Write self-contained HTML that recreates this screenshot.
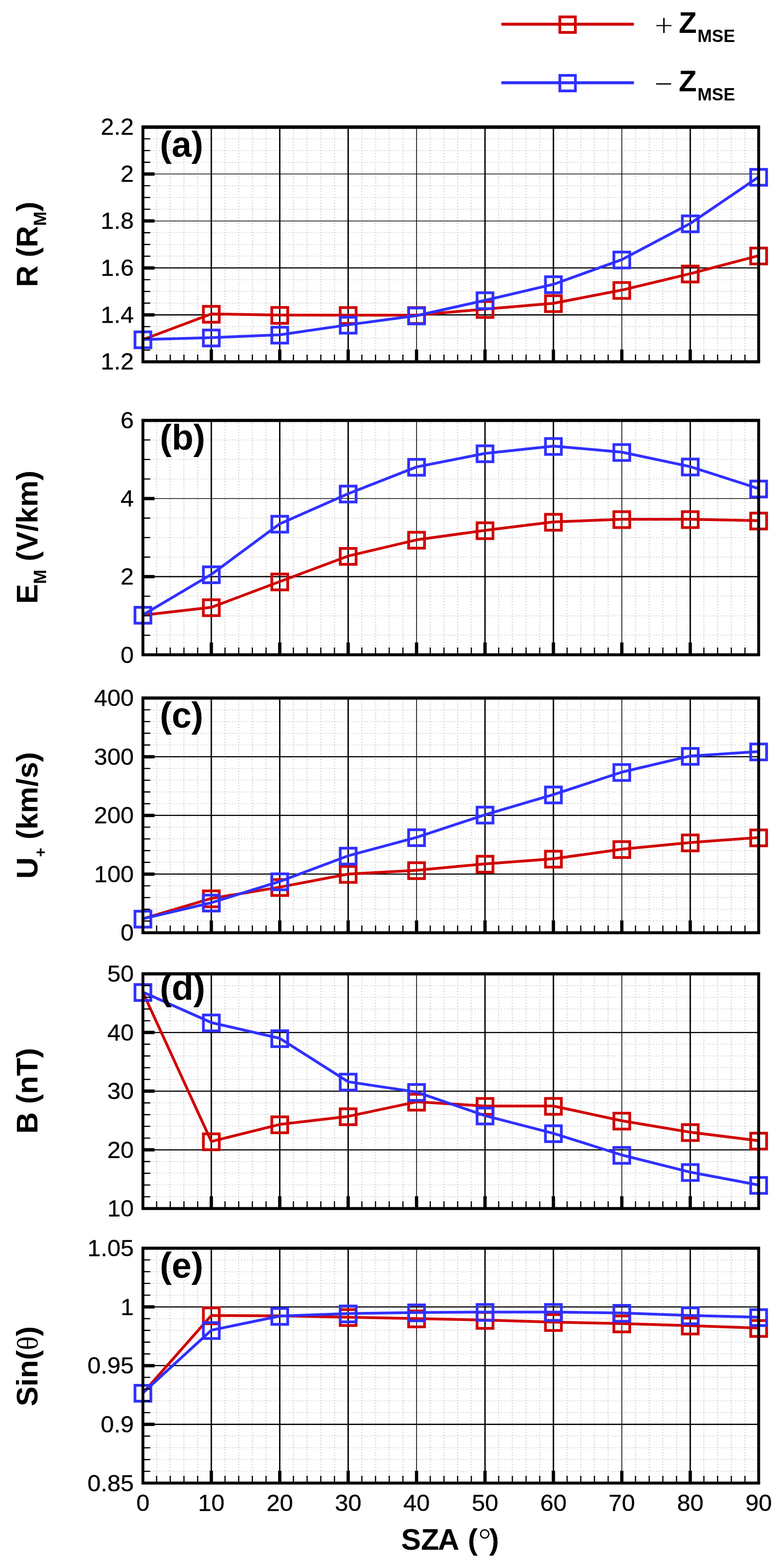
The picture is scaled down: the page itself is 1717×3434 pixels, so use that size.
<!DOCTYPE html>
<html lang="en">
<head>
<meta charset="utf-8">
<title>SZA dependence of R, E_M, U+, B and Sin(theta) for +Z_MSE and -Z_MSE</title>
<style>
html,body{margin:0;padding:0;background:#fff;}
svg{display:block;}
text{font-family:"Liberation Sans", Arial, Helvetica, sans-serif;fill:#000;}
.tk{font-size:50.4px;stroke:#000;stroke-width:0.35px;}
.yl{font-size:65px;font-weight:bold;text-anchor:middle;}
.pl{font-size:78px;font-weight:bold;}
.sub{font-size:38px;font-weight:bold;}
.sym{font-family:"Liberation Serif", "Times New Roman", serif;font-weight:normal;}
.lt{font-family:"DejaVu Sans Light","DejaVu Sans","Liberation Sans", Arial, Helvetica, sans-serif;font-weight:200;font-size:52px;stroke:#000;stroke-width:0.5px;}
.dg{font-family:"DejaVu Sans Light","DejaVu Sans","Liberation Sans", Arial, Helvetica, sans-serif;font-weight:200;font-size:78px;}
.gm{stroke:#c8c8c8;fill:none;stroke-dasharray:1.5 4.9;}
.gM{stroke:#000;fill:none;}
.ax{stroke:#000;fill:none;}
.r{stroke:#d00000;fill:none;}
.b{stroke:#3030ff;fill:none;}
</style>
</head>
<body>
<svg width="1717" height="3434" viewBox="0 0 1717 3434">
<rect x="0" y="0" width="1717" height="3434" fill="#ffffff"/>
<g id="legend">
<g class="r">
<line x1="1098" y1="53.0" x2="1388.3" y2="53.0" stroke-width="6.6"/>
<rect x="1226.1" y="37" width="34" height="34" stroke-width="6"/>
</g>
<text class="lt" x="1454" y="72" text-anchor="middle">+</text>
<text x="1486.5" y="72.1" font-size="64.5" font-weight="bold">Z<tspan class="sub" dx="1.5" dy="19.5">MSE</tspan></text>
<g class="b">
<line x1="1098" y1="181.2" x2="1388.3" y2="181.2" stroke-width="6.6"/>
<rect x="1226.1" y="165.1" width="34" height="34" stroke-width="6"/>
</g>
<text class="lt" x="1453.3" y="200.1" text-anchor="middle">−</text>
<text x="1486.5" y="200.2" font-size="64.5" font-weight="bold">Z<tspan class="sub" dx="1.5" dy="19.5">MSE</tspan></text>
</g>
<g id="panel-a">
<g class="gm">
<path stroke-width="3" d="M343 284.3V789.4M372.9 284.3V789.4M402.9 284.3V789.4M432.9 284.3V789.4M492.8 284.3V789.4M522.8 284.3V789.4M552.7 284.3V789.4M582.7 284.3V789.4M642.6 284.3V789.4M672.6 284.3V789.4M702.6 284.3V789.4M732.5 284.3V789.4M792.5 284.3V789.4M822.4 284.3V789.4M852.4 284.3V789.4M882.4 284.3V789.4M942.3 284.3V789.4M972.3 284.3V789.4M1002.2 284.3V789.4M1032.2 284.3V789.4M1092.1 284.3V789.4M1122.1 284.3V789.4M1152.1 284.3V789.4M1182 284.3V789.4M1242 284.3V789.4M1271.9 284.3V789.4M1301.9 284.3V789.4M1331.9 284.3V789.4M1391.8 284.3V789.4M1421.8 284.3V789.4M1451.7 284.3V789.4M1481.7 284.3V789.4M1541.6 284.3V789.4M1571.6 284.3V789.4M1601.6 284.3V789.4M1631.5 284.3V789.4"/>
<path stroke-width="2.5" d="M330 766.7H1658.5M330 741H1658.5M330 715.3H1658.5M330 663.9H1658.5M330 638.2H1658.5M330 612.5H1658.5M330 561.1H1658.5M330 535.4H1658.5M330 509.6H1658.5M330 458.2H1658.5M330 432.5H1658.5M330 406.8H1658.5M330 355.4H1658.5M330 329.7H1658.5M330 304H1658.5"/>
</g>
<g class="gM">
<path stroke-width="3" d="M462.8 278.3V792.4M612.7 278.3V792.4M762.5 278.3V792.4M1062.2 278.3V792.4M1212 278.3V792.4M1511.7 278.3V792.4"/>
<path stroke-width="1.7" d="M912.3 278.3V792.4M1361.8 278.3V792.4"/>
<path stroke-width="2.6" d="M313 689.6H1661.5M313 586.8H1661.5"/>
<path stroke-width="1.5" d="M313 483.9H1661.5M313 381.1H1661.5"/>
</g>
<g class="r" aria-label="+Z MSE">
<polyline points="313,743.8 462.8,687.5 612.7,689.9 762.5,690.2 912.3,690.2 1062.2,676.9 1212,664.2 1361.8,635.3 1511.7,599.3 1661.5,559.9" stroke-width="6.0" stroke-linejoin="round"/>
<rect x="295.6" y="726.8" width="34.8" height="34.8" stroke-width="4.4"/>
<rect x="445.4" y="670.9" width="34.8" height="34.8" stroke-width="6.0"/>
<rect x="595.3" y="673.3" width="34.8" height="34.8" stroke-width="6.0"/>
<rect x="745.1" y="673.6" width="34.8" height="34.8" stroke-width="6.0"/>
<rect x="894.9" y="673.6" width="34.8" height="34.8" stroke-width="6.0"/>
<rect x="1044.8" y="660.3" width="34.8" height="34.8" stroke-width="6.0"/>
<rect x="1194.6" y="647.6" width="34.8" height="34.8" stroke-width="6.0"/>
<rect x="1344.4" y="618.7" width="34.8" height="34.8" stroke-width="6.0"/>
<rect x="1494.3" y="582.7" width="34.8" height="34.8" stroke-width="6.0"/>
<rect x="1644.1" y="543.3" width="34.8" height="34.8" stroke-width="6.0"/>
</g>
<g class="b" aria-label="-Z MSE">
<polyline points="313,743.4 462.8,739.4 612.7,733.2 762.5,711.4 912.3,691.2 1062.2,657.8 1212,622.7 1361.8,568.6 1511.7,489.4 1661.5,387.5" stroke-width="6.0" stroke-linejoin="round"/>
<rect x="295.6" y="726.8" width="34.8" height="34.8" stroke-width="6.0"/>
<rect x="445.4" y="722.8" width="34.8" height="34.8" stroke-width="6.0"/>
<rect x="595.3" y="716.6" width="34.8" height="34.8" stroke-width="6.0"/>
<rect x="745.1" y="694.8" width="34.8" height="34.8" stroke-width="6.0"/>
<rect x="894.9" y="674.6" width="34.8" height="34.8" stroke-width="6.0"/>
<rect x="1044.8" y="641.2" width="34.8" height="34.8" stroke-width="6.0"/>
<rect x="1194.6" y="606.1" width="34.8" height="34.8" stroke-width="6.0"/>
<rect x="1344.4" y="552" width="34.8" height="34.8" stroke-width="6.0"/>
<rect x="1494.3" y="472.8" width="34.8" height="34.8" stroke-width="6.0"/>
<rect x="1644.1" y="370.9" width="34.8" height="34.8" stroke-width="6.0"/>
</g>
<g class="ax">
<path stroke-width="2.6" d="M313 766.7h16M313 741h16M313 715.3h16M313 663.9h16M313 638.2h16M313 612.5h16M313 561.1h16M313 535.4h16M313 509.6h16M313 458.2h16M313 432.5h16M313 406.8h16M313 355.4h16M313 329.7h16M313 304h16M343 792.4v-16M372.9 792.4v-16M402.9 792.4v-16M432.9 792.4v-16M492.8 792.4v-16M522.8 792.4v-16M552.7 792.4v-16M582.7 792.4v-16M642.6 792.4v-16M672.6 792.4v-16M702.6 792.4v-16M732.5 792.4v-16M792.5 792.4v-16M822.4 792.4v-16M852.4 792.4v-16M882.4 792.4v-16M942.3 792.4v-16M972.3 792.4v-16M1002.2 792.4v-16M1032.2 792.4v-16M1092.1 792.4v-16M1122.1 792.4v-16M1152.1 792.4v-16M1182 792.4v-16M1242 792.4v-16M1271.9 792.4v-16M1301.9 792.4v-16M1331.9 792.4v-16M1391.8 792.4v-16M1421.8 792.4v-16M1451.7 792.4v-16M1481.7 792.4v-16M1541.6 792.4v-16M1571.6 792.4v-16M1601.6 792.4v-16M1631.5 792.4v-16"/>
<path stroke-width="7.2" d="M313 689.6h25.5M313 586.8h25.5M313 483.9h25.5M313 381.1h25.5M462.8 792.4v-27M612.7 792.4v-27M762.5 792.4v-27M912.3 792.4v-27M1062.2 792.4v-27M1212 792.4v-27M1361.8 792.4v-27M1511.7 792.4v-27"/>
<path stroke-width="6.3" d="M313 278.3V792.4M1661.5 278.3V792.4"/>
<path stroke-width="7.7" d="M309.9 278.3H1664.7"/>
<path stroke-width="6.6" d="M309.9 792.4H1664.7"/>
</g>
<g class="tk" text-anchor="end">
<text transform="translate(293.1 809.3) scale(1.037 1)">1.2</text>
<text transform="translate(293.1 706.5) scale(1.037 1)">1.4</text>
<text transform="translate(293.1 603.7) scale(1.037 1)">1.6</text>
<text transform="translate(293.1 500.8) scale(1.037 1)">1.8</text>
<text transform="translate(293.1 398) scale(1.037 1)">2</text>
<text transform="translate(293.1 295.2) scale(1.037 1)">2.2</text>
</g>
<text class="pl" x="350" y="343">(a)</text>
</g>
<g id="panel-b">
<g class="gm">
<path stroke-width="3" d="M343 926.7V1431M372.9 926.7V1431M402.9 926.7V1431M432.9 926.7V1431M492.8 926.7V1431M522.8 926.7V1431M552.7 926.7V1431M582.7 926.7V1431M642.6 926.7V1431M672.6 926.7V1431M702.6 926.7V1431M732.5 926.7V1431M792.5 926.7V1431M822.4 926.7V1431M852.4 926.7V1431M882.4 926.7V1431M942.3 926.7V1431M972.3 926.7V1431M1002.2 926.7V1431M1032.2 926.7V1431M1092.1 926.7V1431M1122.1 926.7V1431M1152.1 926.7V1431M1182 926.7V1431M1242 926.7V1431M1271.9 926.7V1431M1301.9 926.7V1431M1331.9 926.7V1431M1391.8 926.7V1431M1421.8 926.7V1431M1451.7 926.7V1431M1481.7 926.7V1431M1541.6 926.7V1431M1571.6 926.7V1431M1601.6 926.7V1431M1631.5 926.7V1431"/>
<path stroke-width="2.5" d="M330 1391.2H1658.5M330 1348.5H1658.5M330 1305.7H1658.5M330 1220.1H1658.5M330 1177.3H1658.5M330 1134.6H1658.5M330 1049H1658.5M330 1006.2H1658.5M330 963.5H1658.5"/>
</g>
<g class="gM">
<path stroke-width="3" d="M462.8 920.7V1434M612.7 920.7V1434M762.5 920.7V1434M1062.2 920.7V1434M1212 920.7V1434M1511.7 920.7V1434"/>
<path stroke-width="1.7" d="M912.3 920.7V1434M1361.8 920.7V1434"/>
<path stroke-width="2.6" d="M313 1262.9H1661.5"/>
<path stroke-width="1.5" d="M313 1091.8H1661.5"/>
</g>
<g class="r" aria-label="+Z MSE">
<polyline points="313,1347.2 462.8,1330.1 612.7,1273.7 762.5,1217.7 912.3,1182.3 1062.2,1161.5 1212,1143 1361.8,1137.2 1511.7,1137.2 1661.5,1140.3" stroke-width="6.0" stroke-linejoin="round"/>
<rect x="295.6" y="1330" width="34.8" height="34.8" stroke-width="4.4"/>
<rect x="445.4" y="1313.5" width="34.8" height="34.8" stroke-width="6.0"/>
<rect x="595.3" y="1257.1" width="34.8" height="34.8" stroke-width="6.0"/>
<rect x="745.1" y="1201.1" width="34.8" height="34.8" stroke-width="6.0"/>
<rect x="894.9" y="1165.7" width="34.8" height="34.8" stroke-width="6.0"/>
<rect x="1044.8" y="1144.9" width="34.8" height="34.8" stroke-width="6.0"/>
<rect x="1194.6" y="1126.4" width="34.8" height="34.8" stroke-width="6.0"/>
<rect x="1344.4" y="1120.6" width="34.8" height="34.8" stroke-width="6.0"/>
<rect x="1494.3" y="1120.6" width="34.8" height="34.8" stroke-width="6.0"/>
<rect x="1644.1" y="1123.7" width="34.8" height="34.8" stroke-width="6.0"/>
</g>
<g class="b" aria-label="-Z MSE">
<polyline points="313,1346.6 462.8,1258 612.7,1147.2 762.5,1081.2 912.3,1022.6 1062.2,993 1212,977 1361.8,990.2 1511.7,1022 1661.5,1070.2" stroke-width="6.0" stroke-linejoin="round"/>
<rect x="295.6" y="1330" width="34.8" height="34.8" stroke-width="6.0"/>
<rect x="445.4" y="1241.4" width="34.8" height="34.8" stroke-width="6.0"/>
<rect x="595.3" y="1130.6" width="34.8" height="34.8" stroke-width="6.0"/>
<rect x="745.1" y="1064.6" width="34.8" height="34.8" stroke-width="6.0"/>
<rect x="894.9" y="1006" width="34.8" height="34.8" stroke-width="6.0"/>
<rect x="1044.8" y="976.4" width="34.8" height="34.8" stroke-width="6.0"/>
<rect x="1194.6" y="960.4" width="34.8" height="34.8" stroke-width="6.0"/>
<rect x="1344.4" y="973.6" width="34.8" height="34.8" stroke-width="6.0"/>
<rect x="1494.3" y="1005.4" width="34.8" height="34.8" stroke-width="6.0"/>
<rect x="1644.1" y="1053.6" width="34.8" height="34.8" stroke-width="6.0"/>
</g>
<g class="ax">
<path stroke-width="2.6" d="M313 1391.2h16M313 1348.5h16M313 1305.7h16M313 1220.1h16M313 1177.3h16M313 1134.6h16M313 1049h16M313 1006.2h16M313 963.5h16M343 1434v-16M372.9 1434v-16M402.9 1434v-16M432.9 1434v-16M492.8 1434v-16M522.8 1434v-16M552.7 1434v-16M582.7 1434v-16M642.6 1434v-16M672.6 1434v-16M702.6 1434v-16M732.5 1434v-16M792.5 1434v-16M822.4 1434v-16M852.4 1434v-16M882.4 1434v-16M942.3 1434v-16M972.3 1434v-16M1002.2 1434v-16M1032.2 1434v-16M1092.1 1434v-16M1122.1 1434v-16M1152.1 1434v-16M1182 1434v-16M1242 1434v-16M1271.9 1434v-16M1301.9 1434v-16M1331.9 1434v-16M1391.8 1434v-16M1421.8 1434v-16M1451.7 1434v-16M1481.7 1434v-16M1541.6 1434v-16M1571.6 1434v-16M1601.6 1434v-16M1631.5 1434v-16"/>
<path stroke-width="7.2" d="M313 1262.9h25.5M313 1091.8h25.5M462.8 1434v-27M612.7 1434v-27M762.5 1434v-27M912.3 1434v-27M1062.2 1434v-27M1212 1434v-27M1361.8 1434v-27M1511.7 1434v-27"/>
<path stroke-width="6.3" d="M313 920.7V1434M1661.5 920.7V1434"/>
<path stroke-width="6.9" d="M309.9 920.7H1664.7"/>
<path stroke-width="6.6" d="M309.9 1434H1664.7"/>
</g>
<g class="tk" text-anchor="end">
<text transform="translate(293.1 1451.5) scale(1.037 1)">0</text>
<text transform="translate(293.1 1280.4) scale(1.037 1)">2</text>
<text transform="translate(293.1 1109.3) scale(1.037 1)">4</text>
<text transform="translate(293.1 938.2) scale(1.037 1)">6</text>
</g>
<text class="pl" x="350" y="985.2">(b)</text>
</g>
<g id="panel-c">
<g class="gm">
<path stroke-width="3" d="M343 1534.8V2039.8M372.9 1534.8V2039.8M402.9 1534.8V2039.8M432.9 1534.8V2039.8M492.8 1534.8V2039.8M522.8 1534.8V2039.8M552.7 1534.8V2039.8M582.7 1534.8V2039.8M642.6 1534.8V2039.8M672.6 1534.8V2039.8M702.6 1534.8V2039.8M732.5 1534.8V2039.8M792.5 1534.8V2039.8M822.4 1534.8V2039.8M852.4 1534.8V2039.8M882.4 1534.8V2039.8M942.3 1534.8V2039.8M972.3 1534.8V2039.8M1002.2 1534.8V2039.8M1032.2 1534.8V2039.8M1092.1 1534.8V2039.8M1122.1 1534.8V2039.8M1152.1 1534.8V2039.8M1182 1534.8V2039.8M1242 1534.8V2039.8M1271.9 1534.8V2039.8M1301.9 1534.8V2039.8M1331.9 1534.8V2039.8M1391.8 1534.8V2039.8M1421.8 1534.8V2039.8M1451.7 1534.8V2039.8M1481.7 1534.8V2039.8M1541.6 1534.8V2039.8M1571.6 1534.8V2039.8M1601.6 1534.8V2039.8M1631.5 1534.8V2039.8"/>
<path stroke-width="2.5" d="M330 2017.1H1658.5M330 1991.4H1658.5M330 1965.7H1658.5M330 1940H1658.5M330 1888.6H1658.5M330 1862.9H1658.5M330 1837.2H1658.5M330 1811.5H1658.5M330 1760.1H1658.5M330 1734.4H1658.5M330 1708.7H1658.5M330 1683H1658.5M330 1631.6H1658.5M330 1605.9H1658.5M330 1580.2H1658.5M330 1554.5H1658.5"/>
</g>
<g class="gM">
<path stroke-width="3" d="M462.8 1528.8V2042.8M612.7 1528.8V2042.8M762.5 1528.8V2042.8M1062.2 1528.8V2042.8M1212 1528.8V2042.8M1511.7 1528.8V2042.8"/>
<path stroke-width="1.7" d="M912.3 1528.8V2042.8M1361.8 1528.8V2042.8"/>
<path stroke-width="2.6" d="M313 1914.3H1661.5M313 1785.8H1661.5M313 1657.3H1661.5"/>
</g>
<g class="r" aria-label="+Z MSE">
<polyline points="313,2012.2 462.8,1967.7 612.7,1942.9 762.5,1914.2 912.3,1906 1062.2,1891.9 1212,1880.8 1361.8,1859.8 1511.7,1845.2 1661.5,1834.2" stroke-width="6.0" stroke-linejoin="round"/>
<rect x="295.6" y="1995.6" width="34.8" height="34.8" stroke-width="4.4"/>
<rect x="445.4" y="1951.1" width="34.8" height="34.8" stroke-width="6.0"/>
<rect x="595.3" y="1926.3" width="34.8" height="34.8" stroke-width="6.0"/>
<rect x="745.1" y="1897.6" width="34.8" height="34.8" stroke-width="6.0"/>
<rect x="894.9" y="1889.4" width="34.8" height="34.8" stroke-width="6.0"/>
<rect x="1044.8" y="1875.3" width="34.8" height="34.8" stroke-width="6.0"/>
<rect x="1194.6" y="1864.2" width="34.8" height="34.8" stroke-width="6.0"/>
<rect x="1344.4" y="1843.2" width="34.8" height="34.8" stroke-width="6.0"/>
<rect x="1494.3" y="1828.6" width="34.8" height="34.8" stroke-width="6.0"/>
<rect x="1644.1" y="1817.6" width="34.8" height="34.8" stroke-width="6.0"/>
</g>
<g class="b" aria-label="-Z MSE">
<polyline points="313,2012.2 462.8,1977 612.7,1930.4 762.5,1874.2 912.3,1833.8 1062.2,1784.3 1212,1740.2 1361.8,1691 1511.7,1655.7 1661.5,1646" stroke-width="6.0" stroke-linejoin="round"/>
<rect x="295.6" y="1995.6" width="34.8" height="34.8" stroke-width="6.0"/>
<rect x="445.4" y="1960.4" width="34.8" height="34.8" stroke-width="6.0"/>
<rect x="595.3" y="1913.8" width="34.8" height="34.8" stroke-width="6.0"/>
<rect x="745.1" y="1857.6" width="34.8" height="34.8" stroke-width="6.0"/>
<rect x="894.9" y="1817.2" width="34.8" height="34.8" stroke-width="6.0"/>
<rect x="1044.8" y="1767.7" width="34.8" height="34.8" stroke-width="6.0"/>
<rect x="1194.6" y="1723.6" width="34.8" height="34.8" stroke-width="6.0"/>
<rect x="1344.4" y="1674.4" width="34.8" height="34.8" stroke-width="6.0"/>
<rect x="1494.3" y="1639.1" width="34.8" height="34.8" stroke-width="6.0"/>
<rect x="1644.1" y="1629.4" width="34.8" height="34.8" stroke-width="6.0"/>
</g>
<g class="ax">
<path stroke-width="2.6" d="M313 2017.1h16M313 1991.4h16M313 1965.7h16M313 1940h16M313 1888.6h16M313 1862.9h16M313 1837.2h16M313 1811.5h16M313 1760.1h16M313 1734.4h16M313 1708.7h16M313 1683h16M313 1631.6h16M313 1605.9h16M313 1580.2h16M313 1554.5h16M343 2042.8v-16M372.9 2042.8v-16M402.9 2042.8v-16M432.9 2042.8v-16M492.8 2042.8v-16M522.8 2042.8v-16M552.7 2042.8v-16M582.7 2042.8v-16M642.6 2042.8v-16M672.6 2042.8v-16M702.6 2042.8v-16M732.5 2042.8v-16M792.5 2042.8v-16M822.4 2042.8v-16M852.4 2042.8v-16M882.4 2042.8v-16M942.3 2042.8v-16M972.3 2042.8v-16M1002.2 2042.8v-16M1032.2 2042.8v-16M1092.1 2042.8v-16M1122.1 2042.8v-16M1152.1 2042.8v-16M1182 2042.8v-16M1242 2042.8v-16M1271.9 2042.8v-16M1301.9 2042.8v-16M1331.9 2042.8v-16M1391.8 2042.8v-16M1421.8 2042.8v-16M1451.7 2042.8v-16M1481.7 2042.8v-16M1541.6 2042.8v-16M1571.6 2042.8v-16M1601.6 2042.8v-16M1631.5 2042.8v-16"/>
<path stroke-width="7.2" d="M313 1914.3h25.5M313 1785.8h25.5M313 1657.3h25.5M462.8 2042.8v-27M612.7 2042.8v-27M762.5 2042.8v-27M912.3 2042.8v-27M1062.2 2042.8v-27M1212 2042.8v-27M1361.8 2042.8v-27M1511.7 2042.8v-27"/>
<path stroke-width="6.3" d="M313 1528.8V2042.8M1661.5 1528.8V2042.8"/>
<path stroke-width="6.9" d="M309.9 1528.8H1664.7"/>
<path stroke-width="6.6" d="M309.9 2042.8H1664.7"/>
</g>
<g class="tk" text-anchor="end">
<text transform="translate(293.1 2060.3) scale(1.037 1)">0</text>
<text transform="translate(293.1 1931.8) scale(1.037 1)">100</text>
<text transform="translate(293.1 1803.3) scale(1.037 1)">200</text>
<text transform="translate(293.1 1674.8) scale(1.037 1)">300</text>
<text transform="translate(293.1 1546.3) scale(1.037 1)">400</text>
</g>
<text class="pl" x="350" y="1592.6">(c)</text>
</g>
<g id="panel-d">
<g class="gm">
<path stroke-width="3" d="M343 2138.7V2643.7M372.9 2138.7V2643.7M402.9 2138.7V2643.7M432.9 2138.7V2643.7M492.8 2138.7V2643.7M522.8 2138.7V2643.7M552.7 2138.7V2643.7M582.7 2138.7V2643.7M642.6 2138.7V2643.7M672.6 2138.7V2643.7M702.6 2138.7V2643.7M732.5 2138.7V2643.7M792.5 2138.7V2643.7M822.4 2138.7V2643.7M852.4 2138.7V2643.7M882.4 2138.7V2643.7M942.3 2138.7V2643.7M972.3 2138.7V2643.7M1002.2 2138.7V2643.7M1032.2 2138.7V2643.7M1092.1 2138.7V2643.7M1122.1 2138.7V2643.7M1152.1 2138.7V2643.7M1182 2138.7V2643.7M1242 2138.7V2643.7M1271.9 2138.7V2643.7M1301.9 2138.7V2643.7M1331.9 2138.7V2643.7M1391.8 2138.7V2643.7M1421.8 2138.7V2643.7M1451.7 2138.7V2643.7M1481.7 2138.7V2643.7M1541.6 2138.7V2643.7M1571.6 2138.7V2643.7M1601.6 2138.7V2643.7M1631.5 2138.7V2643.7"/>
<path stroke-width="2.5" d="M330 2621H1658.5M330 2595.3H1658.5M330 2569.6H1658.5M330 2543.9H1658.5M330 2492.5H1658.5M330 2466.8H1658.5M330 2441.1H1658.5M330 2415.4H1658.5M330 2364H1658.5M330 2338.3H1658.5M330 2312.6H1658.5M330 2286.9H1658.5M330 2235.5H1658.5M330 2209.8H1658.5M330 2184.1H1658.5M330 2158.4H1658.5"/>
</g>
<g class="gM">
<path stroke-width="3" d="M462.8 2132.7V2646.7M612.7 2132.7V2646.7M762.5 2132.7V2646.7M1062.2 2132.7V2646.7M1212 2132.7V2646.7M1511.7 2132.7V2646.7"/>
<path stroke-width="1.7" d="M912.3 2132.7V2646.7M1361.8 2132.7V2646.7"/>
<path stroke-width="2.6" d="M313 2518.2H1661.5M313 2389.7H1661.5M313 2261.2H1661.5"/>
</g>
<g class="r" aria-label="+Z MSE">
<polyline points="313,2173.2 462.8,2499.8 612.7,2462.6 762.5,2444.9 912.3,2413.1 1062.2,2422.3 1212,2422.2 1361.8,2454.5 1511.7,2479.6 1661.5,2498.3" stroke-width="6.0" stroke-linejoin="round"/>
<rect x="295.6" y="2156.2" width="34.8" height="34.8" stroke-width="4.4"/>
<rect x="445.4" y="2483.2" width="34.8" height="34.8" stroke-width="6.0"/>
<rect x="595.3" y="2446" width="34.8" height="34.8" stroke-width="6.0"/>
<rect x="745.1" y="2428.3" width="34.8" height="34.8" stroke-width="6.0"/>
<rect x="894.9" y="2396.5" width="34.8" height="34.8" stroke-width="6.0"/>
<rect x="1044.8" y="2405.7" width="34.8" height="34.8" stroke-width="6.0"/>
<rect x="1194.6" y="2405.6" width="34.8" height="34.8" stroke-width="6.0"/>
<rect x="1344.4" y="2437.9" width="34.8" height="34.8" stroke-width="6.0"/>
<rect x="1494.3" y="2463" width="34.8" height="34.8" stroke-width="6.0"/>
<rect x="1644.1" y="2481.7" width="34.8" height="34.8" stroke-width="6.0"/>
</g>
<g class="b" aria-label="-Z MSE">
<polyline points="313,2172.8 462.8,2239.5 612.7,2274 762.5,2369.1 912.3,2391.7 1062.2,2443.3 1212,2482.1 1361.8,2529.5 1511.7,2567.1 1661.5,2595.3" stroke-width="6.0" stroke-linejoin="round"/>
<rect x="295.6" y="2156.2" width="34.8" height="34.8" stroke-width="6.0"/>
<rect x="445.4" y="2222.9" width="34.8" height="34.8" stroke-width="6.0"/>
<rect x="595.3" y="2257.4" width="34.8" height="34.8" stroke-width="6.0"/>
<rect x="745.1" y="2352.5" width="34.8" height="34.8" stroke-width="6.0"/>
<rect x="894.9" y="2375.1" width="34.8" height="34.8" stroke-width="6.0"/>
<rect x="1044.8" y="2426.7" width="34.8" height="34.8" stroke-width="6.0"/>
<rect x="1194.6" y="2465.5" width="34.8" height="34.8" stroke-width="6.0"/>
<rect x="1344.4" y="2512.9" width="34.8" height="34.8" stroke-width="6.0"/>
<rect x="1494.3" y="2550.5" width="34.8" height="34.8" stroke-width="6.0"/>
<rect x="1644.1" y="2578.7" width="34.8" height="34.8" stroke-width="6.0"/>
</g>
<g class="ax">
<path stroke-width="2.6" d="M313 2621h16M313 2595.3h16M313 2569.6h16M313 2543.9h16M313 2492.5h16M313 2466.8h16M313 2441.1h16M313 2415.4h16M313 2364h16M313 2338.3h16M313 2312.6h16M313 2286.9h16M313 2235.5h16M313 2209.8h16M313 2184.1h16M313 2158.4h16M343 2646.7v-16M372.9 2646.7v-16M402.9 2646.7v-16M432.9 2646.7v-16M492.8 2646.7v-16M522.8 2646.7v-16M552.7 2646.7v-16M582.7 2646.7v-16M642.6 2646.7v-16M672.6 2646.7v-16M702.6 2646.7v-16M732.5 2646.7v-16M792.5 2646.7v-16M822.4 2646.7v-16M852.4 2646.7v-16M882.4 2646.7v-16M942.3 2646.7v-16M972.3 2646.7v-16M1002.2 2646.7v-16M1032.2 2646.7v-16M1092.1 2646.7v-16M1122.1 2646.7v-16M1152.1 2646.7v-16M1182 2646.7v-16M1242 2646.7v-16M1271.9 2646.7v-16M1301.9 2646.7v-16M1331.9 2646.7v-16M1391.8 2646.7v-16M1421.8 2646.7v-16M1451.7 2646.7v-16M1481.7 2646.7v-16M1541.6 2646.7v-16M1571.6 2646.7v-16M1601.6 2646.7v-16M1631.5 2646.7v-16"/>
<path stroke-width="7.2" d="M313 2518.2h25.5M313 2389.7h25.5M313 2261.2h25.5M462.8 2646.7v-27M612.7 2646.7v-27M762.5 2646.7v-27M912.3 2646.7v-27M1062.2 2646.7v-27M1212 2646.7v-27M1361.8 2646.7v-27M1511.7 2646.7v-27"/>
<path stroke-width="6.3" d="M313 2132.7V2646.7M1661.5 2132.7V2646.7"/>
<path stroke-width="6.9" d="M309.9 2132.7H1664.7"/>
<path stroke-width="6.6" d="M309.9 2646.7H1664.7"/>
</g>
<g class="tk" text-anchor="end">
<text transform="translate(293.1 2664.2) scale(1.037 1)">10</text>
<text transform="translate(293.1 2535.7) scale(1.037 1)">20</text>
<text transform="translate(293.1 2407.2) scale(1.037 1)">30</text>
<text transform="translate(293.1 2278.7) scale(1.037 1)">40</text>
<text transform="translate(293.1 2150.2) scale(1.037 1)">50</text>
</g>
<text class="pl" x="350" y="2190.4">(d)</text>
</g>
<g id="panel-e">
<g class="gm">
<path stroke-width="3" d="M343 2739.6V3245M372.9 2739.6V3245M402.9 2739.6V3245M432.9 2739.6V3245M492.8 2739.6V3245M522.8 2739.6V3245M552.7 2739.6V3245M582.7 2739.6V3245M642.6 2739.6V3245M672.6 2739.6V3245M702.6 2739.6V3245M732.5 2739.6V3245M792.5 2739.6V3245M822.4 2739.6V3245M852.4 2739.6V3245M882.4 2739.6V3245M942.3 2739.6V3245M972.3 2739.6V3245M1002.2 2739.6V3245M1032.2 2739.6V3245M1092.1 2739.6V3245M1122.1 2739.6V3245M1152.1 2739.6V3245M1182 2739.6V3245M1242 2739.6V3245M1271.9 2739.6V3245M1301.9 2739.6V3245M1331.9 2739.6V3245M1391.8 2739.6V3245M1421.8 2739.6V3245M1451.7 2739.6V3245M1481.7 2739.6V3245M1541.6 2739.6V3245M1571.6 2739.6V3245M1601.6 2739.6V3245M1631.5 2739.6V3245"/>
<path stroke-width="2.5" d="M330 3222.3H1658.5M330 3196.6H1658.5M330 3170.8H1658.5M330 3145.1H1658.5M330 3093.7H1658.5M330 3068H1658.5M330 3042.2H1658.5M330 3016.5H1658.5M330 2965.1H1658.5M330 2939.4H1658.5M330 2913.6H1658.5M330 2887.9H1658.5M330 2836.5H1658.5M330 2810.8H1658.5M330 2785H1658.5M330 2759.3H1658.5"/>
</g>
<g class="gM">
<path stroke-width="3" d="M462.8 2733.6V3248M612.7 2733.6V3248M762.5 2733.6V3248M1062.2 2733.6V3248M1212 2733.6V3248M1511.7 2733.6V3248"/>
<path stroke-width="1.7" d="M912.3 2733.6V3248M1361.8 2733.6V3248"/>
<path stroke-width="2.6" d="M313 3119.4H1661.5M313 2990.8H1661.5M313 2862.2H1661.5"/>
</g>
<g class="r" aria-label="+Z MSE">
<polyline points="313,3050.8 462.8,2880.9 612.7,2881.7 762.5,2884.7 912.3,2887.7 1062.2,2891 1212,2895.6 1361.8,2898.7 1511.7,2903.3 1661.5,2908.6" stroke-width="6.0" stroke-linejoin="round"/>
<rect x="295.6" y="3033.9" width="34.8" height="34.8" stroke-width="4.4"/>
<rect x="445.4" y="2864.3" width="34.8" height="34.8" stroke-width="6.0"/>
<rect x="595.3" y="2865.6" width="34.8" height="34.8" stroke-width="4.4"/>
<rect x="745.1" y="2868.1" width="34.8" height="34.8" stroke-width="6.0"/>
<rect x="894.9" y="2871.1" width="34.8" height="34.8" stroke-width="6.0"/>
<rect x="1044.8" y="2874.4" width="34.8" height="34.8" stroke-width="6.0"/>
<rect x="1194.6" y="2879" width="34.8" height="34.8" stroke-width="6.0"/>
<rect x="1344.4" y="2882.1" width="34.8" height="34.8" stroke-width="6.0"/>
<rect x="1494.3" y="2886.7" width="34.8" height="34.8" stroke-width="6.0"/>
<rect x="1644.1" y="2892" width="34.8" height="34.8" stroke-width="6.0"/>
</g>
<g class="b" aria-label="-Z MSE">
<polyline points="313,3050.5 462.8,2913.2 612.7,2882.2 762.5,2876.8 912.3,2874.4 1062.2,2873.5 1212,2873.5 1361.8,2875.5 1511.7,2880.9 1661.5,2884.8" stroke-width="6.0" stroke-linejoin="round"/>
<rect x="295.6" y="3033.9" width="34.8" height="34.8" stroke-width="6.0"/>
<rect x="445.4" y="2896.6" width="34.8" height="34.8" stroke-width="6.0"/>
<rect x="595.3" y="2865.6" width="34.8" height="34.8" stroke-width="6.0"/>
<rect x="745.1" y="2860.2" width="34.8" height="34.8" stroke-width="6.0"/>
<rect x="894.9" y="2857.8" width="34.8" height="34.8" stroke-width="6.0"/>
<rect x="1044.8" y="2856.9" width="34.8" height="34.8" stroke-width="6.0"/>
<rect x="1194.6" y="2856.9" width="34.8" height="34.8" stroke-width="6.0"/>
<rect x="1344.4" y="2858.9" width="34.8" height="34.8" stroke-width="6.0"/>
<rect x="1494.3" y="2864.3" width="34.8" height="34.8" stroke-width="6.0"/>
<rect x="1644.1" y="2868.2" width="34.8" height="34.8" stroke-width="6.0"/>
</g>
<g class="ax">
<path stroke-width="2.6" d="M313 3222.3h16M313 3196.6h16M313 3170.8h16M313 3145.1h16M313 3093.7h16M313 3068h16M313 3042.2h16M313 3016.5h16M313 2965.1h16M313 2939.4h16M313 2913.6h16M313 2887.9h16M313 2836.5h16M313 2810.8h16M313 2785h16M313 2759.3h16M343 3248v-16M372.9 3248v-16M402.9 3248v-16M432.9 3248v-16M492.8 3248v-16M522.8 3248v-16M552.7 3248v-16M582.7 3248v-16M642.6 3248v-16M672.6 3248v-16M702.6 3248v-16M732.5 3248v-16M792.5 3248v-16M822.4 3248v-16M852.4 3248v-16M882.4 3248v-16M942.3 3248v-16M972.3 3248v-16M1002.2 3248v-16M1032.2 3248v-16M1092.1 3248v-16M1122.1 3248v-16M1152.1 3248v-16M1182 3248v-16M1242 3248v-16M1271.9 3248v-16M1301.9 3248v-16M1331.9 3248v-16M1391.8 3248v-16M1421.8 3248v-16M1451.7 3248v-16M1481.7 3248v-16M1541.6 3248v-16M1571.6 3248v-16M1601.6 3248v-16M1631.5 3248v-16"/>
<path stroke-width="7.2" d="M313 3119.4h25.5M313 2990.8h25.5M313 2862.2h25.5M462.8 3248v-27M612.7 3248v-27M762.5 3248v-27M912.3 3248v-27M1062.2 3248v-27M1212 3248v-27M1361.8 3248v-27M1511.7 3248v-27"/>
<path stroke-width="6.3" d="M313 2733.6V3248M1661.5 2733.6V3248"/>
<path stroke-width="6.9" d="M309.9 2733.6H1664.7"/>
<path stroke-width="6.6" d="M309.9 3248H1664.7"/>
</g>
<g class="tk" text-anchor="end">
<text transform="translate(293.1 3265.5) scale(1.037 1)">0.85</text>
<text transform="translate(293.1 3136.9) scale(1.037 1)">0.9</text>
<text transform="translate(293.1 3008.3) scale(1.037 1)">0.95</text>
<text transform="translate(293.1 2879.7) scale(1.037 1)">1</text>
<text transform="translate(293.1 2751.1) scale(1.037 1)">1.05</text>
</g>
<text class="pl" x="350" y="2797.9">(e)</text>
</g>
<g class="tk" text-anchor="middle">
<text transform="translate(313 3308.5) scale(1.037 1)">0</text>
<text transform="translate(462.8 3308.5) scale(1.037 1)">10</text>
<text transform="translate(612.7 3308.5) scale(1.037 1)">20</text>
<text transform="translate(762.5 3308.5) scale(1.037 1)">30</text>
<text transform="translate(912.3 3308.5) scale(1.037 1)">40</text>
<text transform="translate(1062.2 3308.5) scale(1.037 1)">50</text>
<text transform="translate(1212 3308.5) scale(1.037 1)">60</text>
<text transform="translate(1361.8 3308.5) scale(1.037 1)">70</text>
<text transform="translate(1511.7 3308.5) scale(1.037 1)">80</text>
<text transform="translate(1661.5 3308.5) scale(1.037 1)">90</text>
</g>
<text class="yl" style="text-anchor:start" y="3394.4" xml:space="preserve"><tspan x="878.6">SZ</tspan><tspan x="959">A </tspan><tspan x="1024.5">(</tspan><tspan class="dg" x="1042" dy="11">°</tspan><tspan x="1071.2" dy="-11">)</tspan></text>
<text class="yl" transform="translate(81.7 535) rotate(-90)" xml:space="preserve">R (R<tspan class="sub" dy="19.5">M</tspan><tspan dy="-19.5">)</tspan></text>
<text class="yl" transform="translate(81.7 1176.4) rotate(-90)" xml:space="preserve">E<tspan class="sub" dy="19.5">M</tspan><tspan dy="-19.5"> (V/km)</tspan></text>
<text class="yl" transform="translate(81.7 1785.8) rotate(-90)" xml:space="preserve">U<tspan class="sub" style="font-size:34.5px" dx="1" dy="19.5">+</tspan><tspan dy="-19.5"> (km/s)</tspan></text>
<text class="yl" transform="translate(81.7 2388.9) rotate(-90)" xml:space="preserve">B (nT)</text>
<text class="yl" transform="translate(81.7 2992.2) rotate(-90)" xml:space="preserve">Sin(<tspan class="sym" font-size="64">θ</tspan>)</text>
</svg>
</body>
</html>
